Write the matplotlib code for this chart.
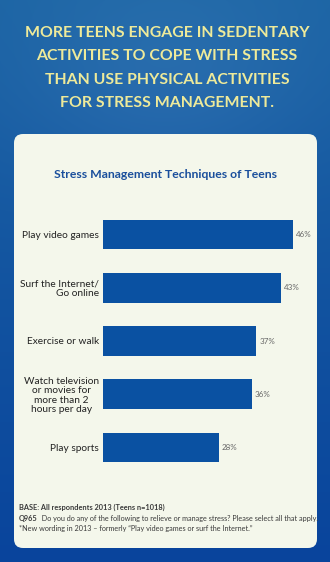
import numpy as np
import matplotlib
matplotlib.use("Agg")
import matplotlib.pyplot as plt
from matplotlib.patches import FancyBboxPatch

# ---------------- data ----------------
categories = ["Play video games", "Surf the Internet/\nGo online", "Exercise or walk",
              "Watch television\nor movies for\nmore than 2\nhours per day", "Play sports"]
values = [46, 43, 37, 36, 28]
value_labels = ["46%", "43%", "37%", "36%", "28%"]
headline = ["MORE TEENS ENGAGE IN SEDENTARY", "ACTIVITIES TO COPE WITH STRESS",
            "THAN USE PHYSICAL ACTIVITIES", "FOR STRESS MANAGEMENT."]
chart_title = "Stress Management Techniques of Teens"
base_note = "BASE: All respondents 2013 (Teens n=1018)"
q_code = "Q965"
q_text = "  Do you do any of the following to relieve or manage stress? Please select all that apply."
new_note = "*New wording in 2013 \u2013 formerly \u201cPlay video games or surf the Internet.\u201d"

W, H = 330, 562
FONT = "Lato"
fig = plt.figure(figsize=(W / 100, H / 100), dpi=100)

# background axes in pixel units
bg = fig.add_axes([0, 0, 1, 1])
bg.set_xlim(0, W)
bg.set_ylim(H, 0)
bg.axis("off")

yy, xx = np.mgrid[0:H, 0:W]
t = yy / H
top = np.array([28, 100, 164]) / 255
bot = np.array([9, 68, 156]) / 255
img = top[None, None, :] * (1 - t[..., None]) + bot[None, None, :] * t[..., None]
glow = np.exp(-(((xx - 165) / 150) ** 2 + ((yy - 80) / 110) ** 2))
img = img + glow[..., None] * np.array([14, 12, 10])[None, None, :] / 255
img = np.clip(img, 0, 1)
bg.imshow(img, extent=(0, W, H, 0), aspect="auto", zorder=0)

panel = FancyBboxPatch((14, 134), 303, 414, boxstyle="round,pad=0,rounding_size=9",
                       facecolor="#f4f7eb", edgecolor="none", zorder=1)
bg.add_patch(panel)

# headline
for i, line in enumerate(headline):
    bg.text(167, 33 + i * 23.3, line, ha="center", va="center", color="#eeea9a",
            fontsize=11.4, fontweight="bold", family=FONT, zorder=2)

bg.text(165, 175, chart_title, ha="center", va="center", color="#1a4f9c",
        fontsize=8.8, fontweight="bold", family=FONT, zorder=2)

# footnotes
note_col = "#3a3a3a"
bg.text(19, 507, base_note, ha="left", va="center", color=note_col,
        fontsize=5.3, fontweight="bold", family=FONT, zorder=2)
tq = bg.text(19, 518, q_code, ha="left", va="center", color=note_col,
             fontsize=5.3, fontweight="bold", family=FONT, zorder=2)
fig.canvas.draw()
ext = tq.get_window_extent(renderer=fig.canvas.get_renderer())
x_end = ext.x1  # pixels
bg.text(x_end, 518, q_text, ha="left", va="center", color=note_col,
        fontsize=5.2, family=FONT, zorder=2)
bg.text(19, 528.5, new_note, ha="left", va="center", color=note_col,
        fontsize=5.2, family=FONT, zorder=2)

# bar chart axes
px_per_unit = 4.13
ax_left = 103
ax_width = 50 * px_per_unit
spacing = 53.25
ax_top = 234.5 - spacing / 2
ax_h = spacing * len(values)
ax = fig.add_axes([ax_left / W, 1 - (ax_top + ax_h) / H, ax_width / W, ax_h / H])
ax.set_facecolor("none")
ypos = np.arange(len(values))
ax.barh(ypos, values, height=0.555, color="#0a51a2", edgecolor="none", zorder=3)
ax.set_xlim(0, 50)
ax.set_ylim(len(values) - 0.5, -0.5)
for s in ax.spines.values():
    s.set_visible(False)
ax.set_xticks([])
ax.set_yticks(ypos)
ax.set_yticklabels(categories, fontsize=7.3, family=FONT, color="#222222")
ax.tick_params(axis="y", length=0, pad=3)
aligns = ["right", "right", "right", "center", "right"]
for lab, al in zip(ax.get_yticklabels(), aligns):
    lab.set_multialignment(al)
    lab.set_linespacing(1.05)
for y, v, lbl in zip(ypos, values, value_labels):
    ax.text(v + 0.8, y, lbl, ha="left", va="center", fontsize=5.8, family=FONT,
            color="#666666", zorder=4)

fig.savefig("out.png", dpi=100)
